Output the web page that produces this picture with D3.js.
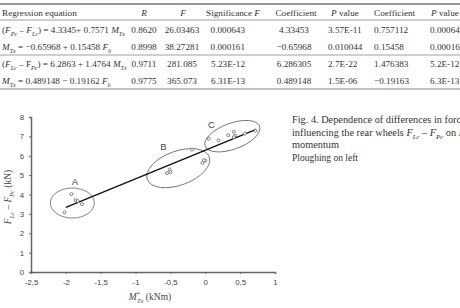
<!DOCTYPE html>
<html>
<head>
<meta charset="utf-8">
<script src="https://cdn.jsdelivr.net/npm/d3@7"></script>
<style>
  body { margin: 0; background: #fff; }
  svg { display: block; }
</style>
</head>
<body>
<div id="chart"></div>
<script>
// table contents
const headers = ['Regression equation', 'R', 'F', 'Significance F', 'Coefficient', 'P value', 'Coefficient', 'P value'];
// segments: [text, kind] kind: '' normal, 'i' italic, 's' subscript
const equations = [
  [['(', ''], ['F', 'i'], ['Pc', 's'], [' – ', ''], ['F', 'i'], ['Lc', 's'], [') = 4.3345+ 0.7571 ', ''], ['M', 'i'], ['Tx', 's']],
  [['M', 'i'], ['Tx', 's'], [' = −0.65968 + 0.15458 ', ''], ['F', 'i'], ['h', 's']],
  [['(', ''], ['F', 'i'], ['Lc', 's'], [' – F', ''], ['Pc', 's'], [') = 6.2863 + 1.4764 ', ''], ['M', 'i'], ['Tx', 's']],
  [['M', 'i'], ['Tx', 's'], [' = 0.489148 − 0.19162 ', ''], ['F', 'i'], ['h', 's']]
];
const rCol = ['0.8620', '0.8998', '0.9711', '0.9775'];
const fCol = ['26.03463', '38.27281', '281.085', '365.073'];
const sigF = ['0.000643', '0.000161', '5.23E-12', '6.31E-13'];
const coef1 = ['4.33453', '−0.65968', '6.286305', '0.489148'];
const pval1 = ['3.57E-11', '0.010044', '2.7E-22', '1.5E-06'];
const coef2 = ['0.757112', '0.15458', '1.476383', '−0.19163'];
const pval2 = ['0.000643', '0.00016', '5.2E-12', '6.3E-13'];

// chart data (M*Tx, FLc - FPc)
const groupA = [[-2.02, 3.08], [-1.92, 4.02], [-1.86, 3.71], [-1.83, 3.66], [-1.77, 3.5]];
const groupB = [[-0.55, 5.1], [-0.5, 5.15], [-0.51, 5.29], [-0.19, 6.32], [-0.04, 5.63], [0.0, 5.75], [-0.02, 5.77]];
const groupC = [[0.05, 6.88], [0.19, 6.79], [0.33, 7.06], [0.41, 7.24], [0.43, 7.04], [0.41, 6.96], [0.57, 7.14], [0.72, 7.29]];
const fitRange = [-2.0, 0.73];
const fitCoef = [6.2863, 1.4764];
const groupNames = ['A', 'B', 'C'];
const groupCentres = [[-1.907, 3.56], [-0.388, 5.36], [0.388, 7.01]];
const labelPos = [[-1.87, 4.69], [-0.6, 6.49], [0.09, 7.63]];
const xTicks = [-2.5, -2, -1.5, -1, -0.5, 0, 0.5, 1];
const yTicks = [0, 1, 2, 3, 4, 5, 6, 7, 8];

const W = 460, H = 308;
const svg = d3.select('#chart').append('svg')
  .attr('width', W).attr('height', H);

const serif = 'Liberation Serif, Times New Roman, serif';
const sans = 'Liberation Sans, Arial, sans-serif';

function rich(sel, segs, size) {
  segs.forEach(([t, k], i) => {
    const prev = i > 0 ? segs[i - 1][1] : '';
    const ts = sel.append('tspan').text(t);
    if (k === 'i') ts.attr('font-style', 'italic');
    if (k === 's') ts.attr('font-style', 'italic').attr('font-size', size * 0.66).attr('dy', size * 0.28);
    else if (prev === 's') ts.attr('dy', -size * 0.28);
  });
}

// ---- table ----
const fs = 9.2;
const tbl = svg.append('g').attr('font-family', serif).attr('font-size', fs).attr('fill', '#333');
const rowY = [30, 47, 64, 81];
[[4, 1.6], [20, 0.7], [55, 0.7], [89, 0.9]].forEach(([yy, sw]) => {
  tbl.append('line').attr('x1', 0).attr('x2', W).attr('y1', yy).attr('y2', yy)
    .attr('stroke', '#777').attr('stroke-width', sw);
});
// body columns: [x, anchor]
const cols = [[2, 'start'], [144, 'middle'], [182, 'middle'], [245, 'end'], [294, 'middle'], [328, 'start'], [374, 'start'], [430, 'start']];
// header columns
const headCols = [[2, 'start'], [144, 'middle'], [183, 'middle'], [233, 'middle'], [296, 'middle'], [331, 'start'], [374, 'start'], [431, 'start']];
headers.forEach((h, i) => {
  const t = tbl.append('text').attr('x', headCols[i][0]).attr('y', 16).attr('text-anchor', headCols[i][1]);
  if (h === 'R' || h === 'F') t.attr('font-style', 'italic').text(h);
  else if (h === 'Significance F') { t.text('Significance '); t.append('tspan').attr('font-style', 'italic').text('F'); }
  else if (h === 'P value') { t.append('tspan').attr('font-style', 'italic').text('P'); t.append('tspan').text(' value'); }
  else t.text(h);
});
equations.forEach((eq, r) => {
  rich(tbl.append('text').attr('x', 2).attr('y', rowY[r] + 3), eq, fs);
});
[rCol, fCol, sigF, coef1, pval1, coef2, pval2].forEach((col, c) => {
  col.forEach((v, r) => {
    tbl.append('text').attr('x', cols[c + 1][0]).attr('y', rowY[r] + 3)
      .attr('text-anchor', cols[c + 1][1]).text(v);
  });
});

// ---- chart ----
const x = d3.scaleLinear().domain([-2.5, 1]).range([31, 275]);
const y = d3.scaleLinear().domain([0, 8]).range([272, 117]);
const fmt = v => String(v).replace('.', ',');

const xAxis = svg.append('g').attr('transform', `translate(0,${y(0)})`)
  .call(d3.axisBottom(x).tickValues(xTicks).tickFormat(fmt).tickSizeOuter(0).tickSize(2).tickPadding(5));
const yAxis = svg.append('g').attr('transform', `translate(${x(-2.5)},0)`)
  .call(d3.axisLeft(y).tickValues(yTicks).tickFormat(fmt).tickSizeOuter(0).tickSize(2).tickPadding(5));
[xAxis, yAxis].forEach(a => {
  a.select('.domain').attr('stroke', '#666').attr('stroke-width', 1.5);
  a.selectAll('.tick line').attr('stroke', '#666').attr('stroke-width', 1);
  a.selectAll('.tick text').attr('font-family', sans).attr('font-size', 7.8).attr('fill', '#444');
});

// ellipses
const ellSize = [[22, 15, 0], [33, 17, -20], [29, 13, -20]];
groupCentres.forEach((c, i) => {
  svg.append('ellipse')
    .attr('transform', `translate(${x(c[0])},${y(c[1])}) rotate(${ellSize[i][2]})`)
    .attr('rx', ellSize[i][0]).attr('ry', ellSize[i][1])
    .attr('fill', 'none').attr('stroke', '#666').attr('stroke-width', 0.8);
});
groupNames.forEach((n, i) => {
  svg.append('text').attr('x', x(labelPos[i][0])).attr('y', y(labelPos[i][1]) + 3.5)
    .attr('text-anchor', 'middle').attr('font-family', sans).attr('font-size', 9.5)
    .attr('fill', '#444').text(n);
});

// fit line
svg.append('line')
  .attr('x1', x(fitRange[0])).attr('y1', y(fitCoef[0] + fitCoef[1] * fitRange[0]))
  .attr('x2', x(fitRange[1])).attr('y2', y(fitCoef[0] + fitCoef[1] * fitRange[1]))
  .attr('stroke', '#111').attr('stroke-width', 1.4);

// points
svg.selectAll('.pt').data(groupA.concat(groupB, groupC)).enter()
  .append('circle').attr('class', 'pt')
  .attr('cx', d => x(d[0])).attr('cy', d => y(d[1])).attr('r', 1.5)
  .attr('fill', '#fff').attr('stroke', '#555').attr('stroke-width', 0.7);

// axis titles
const xt = svg.append('text').attr('x', 150).attr('y', 300).attr('text-anchor', 'middle')
  .attr('font-family', serif).attr('font-size', 9.5).attr('fill', '#444');
xt.append('tspan').attr('font-style', 'italic').text('M');
xt.append('tspan').attr('font-size', 6.5).attr('dy', -4).text('*');
xt.append('tspan').attr('font-style', 'italic').attr('font-size', 6.5).attr('dx', -3).attr('dy', 7).text('Tx');
xt.append('tspan').attr('dy', -3).text(' (kNm)');

const yt = svg.append('text').attr('transform', 'translate(11,197) rotate(-90)').attr('text-anchor', 'middle')
  .attr('font-family', serif).attr('font-size', 9.5).attr('fill', '#444');
rich(yt, [['F', 'i'], ['Lc', 's'], [' – ', ''], ['F', 'i'], ['Pc', 's'], [' (kN)', '']], 9.5);

// caption
const cfs = 10.3;
const cap = svg.append('g').attr('font-family', serif).attr('font-size', cfs).attr('fill', '#333');
cap.append('text').attr('x', 292).attr('y', 123).text('Fig. 4. Dependence of differences in forces');
rich(cap.append('text').attr('x', 292).attr('y', 136),
  [['influencing the rear wheels ', ''], ['F', 'i'], ['Lc', 's'], [' – ', ''], ['F', 'i'], ['Pc', 's'], [' on ', ''], ['M', 'i'], ['Tx', 's']], cfs);
cap.append('text').attr('x', 292).attr('y', 148).text('momentum');
cap.append('text').attr('x', 292).attr('y', 161).attr('font-size', 9.5).text('Ploughing on left');
</script>
</body>
</html>
